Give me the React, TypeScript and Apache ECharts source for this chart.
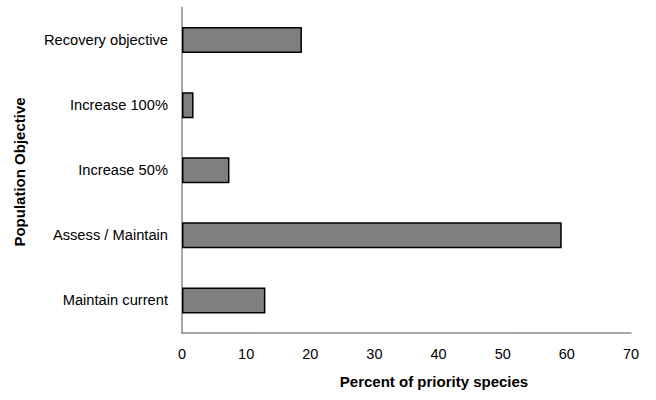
import React, { useEffect, useRef } from "react";
import * as echarts from "echarts";

const categories = [
  "Recovery objective",
  "Increase 100%",
  "Increase 50%",
  "Assess / Maintain",
  "Maintain current",
];
const values = [18.7, 1.8, 7.4, 59.2, 13.0];
const xTicks = { min: 0, max: 70, interval: 10 };
const xName = "Percent of priority species";
const yName = "Population Objective";

const FONT = "'Liberation Sans', Arial, sans-serif";

export default function App() {
  const ref = useRef<HTMLDivElement>(null);
  useEffect(() => {
    document.body.style.margin = "0";
    const chart = echarts.init(ref.current!, undefined, { renderer: "svg" });
    chart.setOption({
      animation: false,
      backgroundColor: "#ffffff",
      grid: { left: 182, right: 25, top: 7.5, bottom: 67, containLabel: false },
      xAxis: {
        type: "value",
        min: xTicks.min,
        max: xTicks.max,
        interval: xTicks.interval,
        splitLine: { show: false },
        axisTick: { show: false },
        axisLine: { show: true, lineStyle: { color: "#8c8c8c", width: 1.5 } },
        axisLabel: { color: "#000", fontSize: 14.5, fontFamily: FONT, margin: 13 },
      },
      yAxis: {
        type: "category",
        inverse: true,
        data: categories,
        axisTick: { show: false },
        axisLine: { show: true, lineStyle: { color: "#8c8c8c", width: 1.5 } },
        axisLabel: { color: "#000", fontSize: 14.7, fontFamily: FONT, margin: 14 },
      },
      series: [
        {
          type: "bar",
          data: values,
          barWidth: 26,
          itemStyle: { color: "#7f7f7f", borderColor: "#000", borderWidth: 1.5 },
        },
      ],
      graphic: [
        {
          type: "text",
          x: 434,
          y: 381,
          style: {
            text: xName,
            fontSize: 15,
            fontWeight: "bold",
            fontFamily: FONT,
            fill: "#000",
            align: "center",
            verticalAlign: "middle",
          },
        },
        {
          type: "text",
          x: 19,
          y: 172,
          rotation: Math.PI / 2,
          style: {
            text: yName,
            fontSize: 15,
            fontWeight: "bold",
            fontFamily: FONT,
            fill: "#000",
            align: "center",
            verticalAlign: "middle",
          },
        },
      ],
    });
    return () => chart.dispose();
  }, []);
  return <div ref={ref} style={{ width: 656, height: 400 }} />;
}
